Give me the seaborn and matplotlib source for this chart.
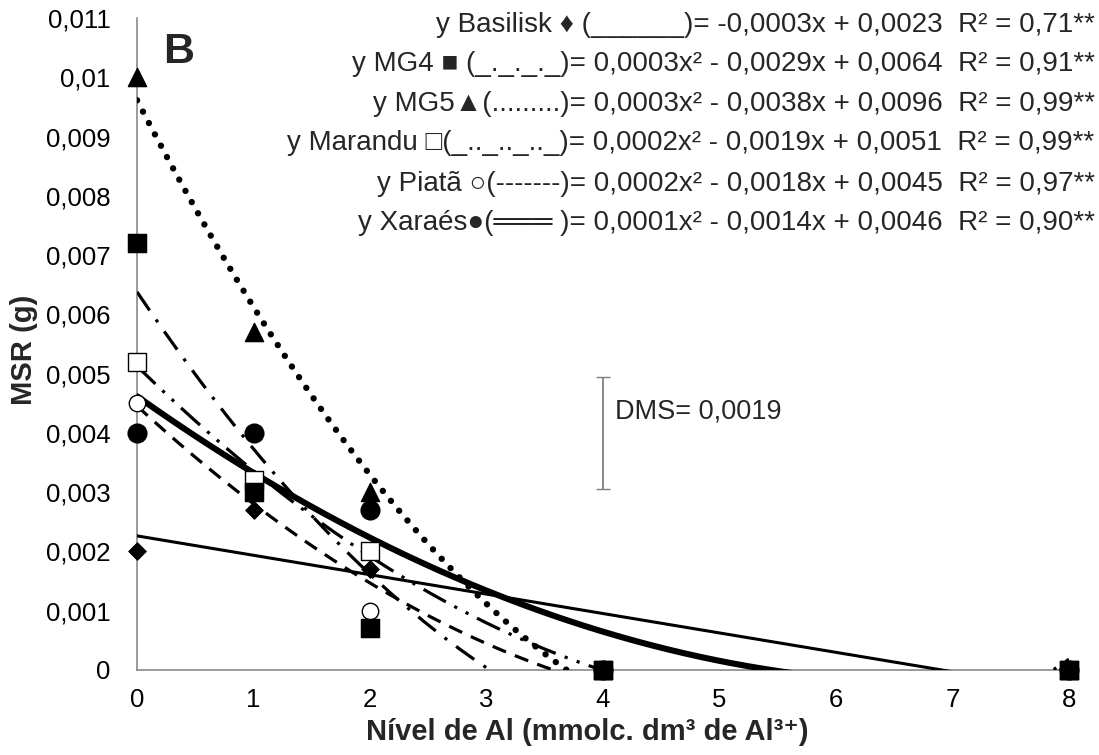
import numpy as np
import matplotlib
matplotlib.use("Agg")
import matplotlib.pyplot as plt
import seaborn as sns
from matplotlib.ticker import FuncFormatter, MultipleLocator

sns.set_style("white")
plt.rcParams['font.family'] = ['Liberation Sans', 'DejaVu Sans']

# ---- data ----
x_levels = [0, 1, 2, 4, 8]
basilisk = [0.0020, 0.0027, 0.0017, 0.0, 0.0]
mg4 = [0.0072, 0.0030, 0.0007, 0.0, 0.0]
mg5 = [0.0100, 0.0057, 0.0030, 0.0, 0.0]
marandu = [0.0052, 0.0032, 0.0020, 0.0, 0.0]
piata = [0.0045, 0.0030, 0.0010, 0.0, 0.0]
xaraes = [0.0040, 0.0040, 0.0027, 0.0, 0.0]

equations = [
    "y Basilisk \u2666 (______)= -0,0003x + 0,0023  R\u00b2 = 0,71**",
    "y MG4 \u25a0 (_._._._)= 0,0003x\u00b2 - 0,0029x + 0,0064  R\u00b2 = 0,91**",
    "y MG5\u25b2(.........)= 0,0003x\u00b2 - 0,0038x + 0,0096  R\u00b2 = 0,99**",
    "y Marandu \u25a1(_.._.._.._)= 0,0002x\u00b2 - 0,0019x + 0,0051  R\u00b2 = 0,99**",
    "y Piat\u00e3 \u25cb(-------)= 0,0002x\u00b2 - 0,0018x + 0,0045  R\u00b2 = 0,97**",
    "y Xara\u00e9s\u25cf(\u2550\u2550\u2550 )= 0,0001x\u00b2 - 0,0014x + 0,0046  R\u00b2 = 0,90**",
]
dms_label = "DMS= 0,0019"
dms_value = 0.0019
dms_center = 0.0040
dms_x = 4.0

fig = plt.figure(figsize=(10.99, 7.55), dpi=100)
ax = fig.add_axes([0.1247, 0.1126, 0.848, 0.8636])

xs = np.linspace(0, 8, 400)
lines = [
    (basilisk, 1, dict(lw=2.2, linestyle='-')),
    (mg4, 2, dict(lw=2.3, linestyle=(0, (7, 3.5, 1, 3.5)))),
    (mg5, 2, dict(lw=4.6, linestyle=(0, (0.01, 2.0)), dash_capstyle='round')),
    (marandu, 2, dict(lw=2.3, linestyle=(0, (8, 3, 1, 3, 1, 3)))),
    (piata, 2, dict(lw=2.3, linestyle=(0, (4.5, 3)))),
    (xaraes, 2, dict(lw=4.4, linestyle='-')),
]
for vals, deg, lkw in lines:
    coefs = np.polyfit(x_levels, vals, deg)
    ys = np.polyval(coefs, xs)
    sns.lineplot(x=xs, y=ys, ax=ax, color='black', estimator=None, sort=False, zorder=3, **lkw)

points = [
    (basilisk, 'D', dict(s=80, color='black', edgecolor='black')),
    (piata, 'o', dict(s=140, color='white', edgecolor='black', linewidth=1.0)),
    (marandu, 's', dict(s=150, color='white', edgecolor='black', linewidth=1.0)),
    (xaraes, 'o', dict(s=180, color='black', edgecolor='black')),
    (mg5, '^', dict(s=170, color='black', edgecolor='black')),
    (mg4, 's', dict(s=175, color='black', edgecolor='black')),
]
for vals, mk, skw in points:
    sns.scatterplot(x=x_levels, y=vals, ax=ax, marker=mk, zorder=5, clip_on=False, legend=False, **skw)

# DMS bar
ax.errorbar([dms_x], [dms_center], yerr=[dms_value / 2], color='#7f7f7f', capsize=5, lw=1.3,
            capthick=1.0, zorder=4)
ax.text(4.10, 0.004235, dms_label, fontsize=19.5, va='baseline', ha='left')

ax.set_xlim(0, 8)
ax.set_ylim(0, 0.011)
ax.xaxis.set_major_locator(MultipleLocator(1))
ax.yaxis.set_major_locator(MultipleLocator(0.001))

def yfmt(v, pos):
    if abs(v) < 1e-12:
        return "0"
    return f"{v:.3f}".rstrip('0').replace('.', ',')

ax.yaxis.set_major_formatter(FuncFormatter(yfmt))
ax.xaxis.set_major_formatter(FuncFormatter(lambda v, p: f"{int(round(v))}"))

for s in ['top', 'right']:
    ax.spines[s].set_visible(False)
for s in ['left', 'bottom']:
    ax.spines[s].set_color('#8a8a8a')
    ax.spines[s].set_linewidth(1.2)
ax.tick_params(axis='both', direction='out', length=6, width=1.1, color='#8a8a8a',
               labelsize=18.5, labelcolor='black')
ax.tick_params(axis='x', pad=7)
ax.tick_params(axis='y', pad=13)

fig.text(587 / 1099, 1 - 740 / 755, "N\u00edvel de Al (mmolc. dm\u00b3 de Al\u00b3\u207a)",
         fontsize=21, fontweight='bold', ha='center', va='baseline')
fig.text(24 / 1099, 1 - 350 / 755, "MSR (g)", fontsize=21, fontweight='bold',
         rotation=90, ha='center', va='center')

fig.text(0.148, 1 - 63 / 755, "B", fontsize=31, fontweight='bold', ha='left', va='baseline')

baselines = [32, 71, 111, 150, 191, 230]
for t, yp in zip(equations, baselines):
    fig.text(0.996, 1 - yp / 755, t, fontsize=20, ha='right', va='baseline')

fig.savefig("out.png", dpi=100)
